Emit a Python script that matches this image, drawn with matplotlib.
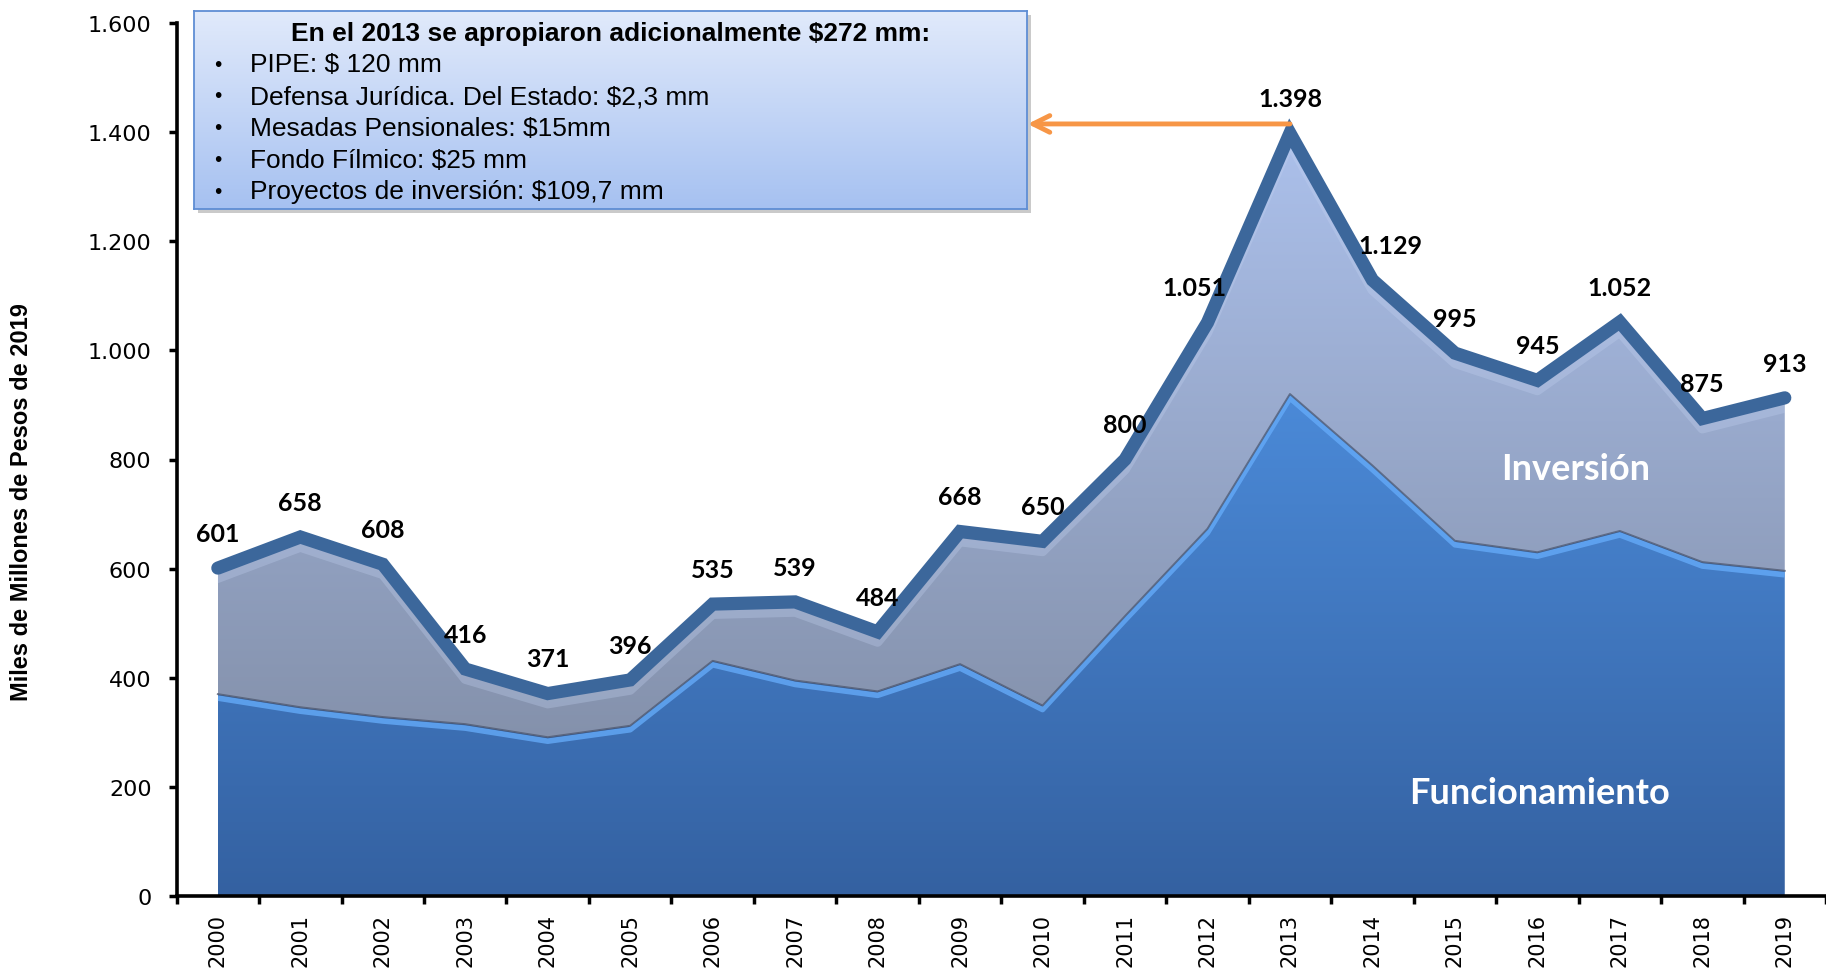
import numpy as np
import matplotlib
matplotlib.use("Agg")
import matplotlib.pyplot as plt
from matplotlib.colors import to_rgb
from matplotlib.patches import Polygon, Rectangle
import matplotlib.transforms as mtransforms

# ---------------- data ----------------
years = [str(y) for y in range(2000, 2020)]
total = [601, 658, 608, 416, 371, 396, 535, 539, 484, 668,
         650, 800, 1051, 1398, 1129, 995, 945, 1052, 875, 913]
funcionamiento = [370, 346, 328, 315, 291, 312, 431, 395, 375, 425,
                  349, 513, 673, 920, 789, 651, 630, 669, 612, 596]
yticks = [0, 200, 400, 600, 800, 1000, 1200, 1400, 1600]
ytick_labels = ["0", "200", "400", "600", "800", "1.000", "1.200", "1.400", "1.600"]
ylabel = "Miles de Millones de Pesos de 2019"
box_title = "En el 2013 se apropiaron adicionalmente $272 mm:"
box_items = ["PIPE: $ 120 mm",
             "Defensa Jurídica. Del Estado: $2,3 mm",
             "Mesadas Pensionales: $15mm",
             "Fondo Fílmico: $25 mm",
             "Proyectos de inversión: $109,7 mm"]
area_names = ["Inversión", "Funcionamiento"]


def fmt(v):
    return f"{v:,}".replace(",", ".")


def vgrad(c_bottom, c_top, n=256):
    b = np.array(to_rgb(c_bottom))
    t = np.array(to_rgb(c_top))
    s = np.linspace(0, 1, n)[:, None, None]
    return b + (t - b) * s


W, H = 1826, 970
fig = plt.figure(figsize=(W / 100, H / 100), dpi=100)
fig.patch.set_facecolor("white")

ax_left, ax_bottom = 176.6, 73
ax = fig.add_axes([ax_left / W, ax_bottom / H, (W - ax_left) / W, 873 / H])
ax.patch.set_alpha(0)

x = np.arange(len(years))
tot = np.array(total, dtype=float)
fun = np.array(funcionamiento, dtype=float)

# polygons for the two stacked areas
inv_verts = list(zip(x, tot)) + list(zip(x[::-1], fun[::-1]))
fun_verts = list(zip(x, fun)) + [(x[-1], 0), (x[0], 0)]
poly_inv = Polygon(inv_verts, closed=True, facecolor="none", edgecolor="none")
poly_fun = Polygon(fun_verts, closed=True, facecolor="none", edgecolor="none")
ax.add_patch(poly_inv)
ax.add_patch(poly_fun)

im_inv = ax.imshow(vgrad("#7a859b", "#b3c9f7"), extent=(x[0], x[-1], 0, 1600),
                   origin="lower", aspect="auto", zorder=1, interpolation="bilinear")
im_inv.set_clip_path(poly_inv)
im_fun = ax.imshow(vgrad("#3461a1", "#4b8ad8"), extent=(x[0], x[-1], 0, fun.max()),
                   origin="lower", aspect="auto", zorder=1.2, interpolation="bilinear")
im_fun.set_clip_path(poly_fun)

# bevel effects
off_hl = mtransforms.offset_copy(ax.transData, fig=fig, x=0, y=-4, units="dots")
hl = ax.plot(x, fun, color="#64aaf8", lw=4, alpha=0.8, transform=off_hl, zorder=1.5,
             solid_capstyle="butt")[0]
hl.set_clip_path(poly_fun)
ax.plot(x, fun, color="#4a5268", lw=1.4, alpha=0.7, zorder=1.6)
off_inv = mtransforms.offset_copy(ax.transData, fig=fig, x=0, y=-10, units="dots")
ih = ax.plot(x, tot, color="#c4d3f2", lw=7, alpha=0.3, transform=off_inv, zorder=1.1)[0]
ih.set_clip_path(poly_inv)

# total line
ax.plot(x, tot, color="#3c679b", lw=9.5, solid_joinstyle="miter",
        solid_capstyle="round", zorder=5)

# data labels
nudge = {12: -9, 14: 13}
for i, v in enumerate(total):
    ax.annotate(fmt(v), (x[i], v), xytext=(nudge.get(i, 0), 25), textcoords="offset points",
                ha="center", va="center", fontsize=18, fontweight="bold",
                family=["Lato", "DejaVu Sans"], zorder=6)

# area names
ax.text(16.47, 784, area_names[0], color="white", fontsize=26, fontweight="bold",
        family=["Lato", "DejaVu Sans"], ha="center", va="center", zorder=6)
ax.text(16.03, 190, area_names[1], color="white", fontsize=26, fontweight="bold",
        family=["Lato", "DejaVu Sans"], ha="center", va="center", zorder=6)

# arrow from the 2013 peak to the box
peak = int(np.argmax(tot))
ax.annotate("", xy=(9.82, tot[peak] + 17), xytext=(x[peak], tot[peak] + 17),
            arrowprops=dict(arrowstyle="->", color="#f79646", lw=3.5, mutation_scale=30,
                            shrinkA=0, shrinkB=0),
            annotation_clip=False, zorder=7)

# axes styling
ax.set_xlim(-0.5, -0.5 + (W - ax_left) / 82.74)
ax.set_ylim(0, 1600)
for s in ["top", "right"]:
    ax.spines[s].set_visible(False)
for s in ["left", "bottom"]:
    ax.spines[s].set_linewidth(2.6)
    ax.spines[s].set_color("black")
    ax.spines[s].set_zorder(8)
ax.set_xticks(x)
ax.set_xticklabels(years, rotation=90, fontsize=15, family="DejaVu Sans")
ax.set_xticks(np.arange(-0.5, len(years) + 0.5, 1), minor=True)
ax.tick_params(axis="x", which="major", length=0, pad=12)
ax.tick_params(axis="x", which="minor", length=6, width=2.5, direction="out")
ax.set_yticks(yticks)
ax.set_yticklabels(ytick_labels, fontsize=16, family="DejaVu Sans")
ax.tick_params(axis="y", length=6, width=2.5, pad=12, direction="out")

fig.text(22 / W, 1 - 502 / H, ylabel, rotation=90, ha="center", va="center",
         fontsize=17, fontweight="bold", family=["Liberation Sans", "DejaVu Sans"])

# annotation box
bx, by, bw, bh = 194, 12, 833, 198
shadow = Rectangle(((bx + 4) / W, 1 - (by + bh + 4) / H), bw / W, bh / H,
                   transform=fig.transFigure, facecolor="#8a8a8a", alpha=0.45,
                   edgecolor="none", zorder=0.5)
fig.patches.append(shadow)
bax = fig.add_axes([bx / W, 1 - (by + bh) / H, bw / W, bh / H], zorder=10)
bax.imshow(vgrad("#a6c1f1", "#e1eafb"), extent=(0, 1, 0, 1), origin="lower",
           aspect="auto", interpolation="bilinear")
bax.set_xlim(0, 1)
bax.set_ylim(0, 1)
bax.set_xticks([])
bax.set_yticks([])
for s in bax.spines.values():
    s.set_color("#5f8ed4")
    s.set_linewidth(1.3)

fig.text((bx + bw / 2) / W, 1 - 34 / H, box_title, ha="center", va="center",
         fontsize=19, fontweight="bold", family=["Liberation Sans", "DejaVu Sans"], zorder=11)
line_y = [65.5, 97, 128.5, 160.5, 192.5]
for ly, item in zip(line_y, box_items):
    fig.text(218 / W, 1 - ly / H, "•", ha="center", va="center", fontsize=15,
             family=["Liberation Sans", "DejaVu Sans"], zorder=11)
    fig.text(250 / W, 1 - ly / H, item, ha="left", va="center", fontsize=19,
             family=["Liberation Sans", "DejaVu Sans"], zorder=11)

fig.savefig("out.png", dpi=100, facecolor="white")
